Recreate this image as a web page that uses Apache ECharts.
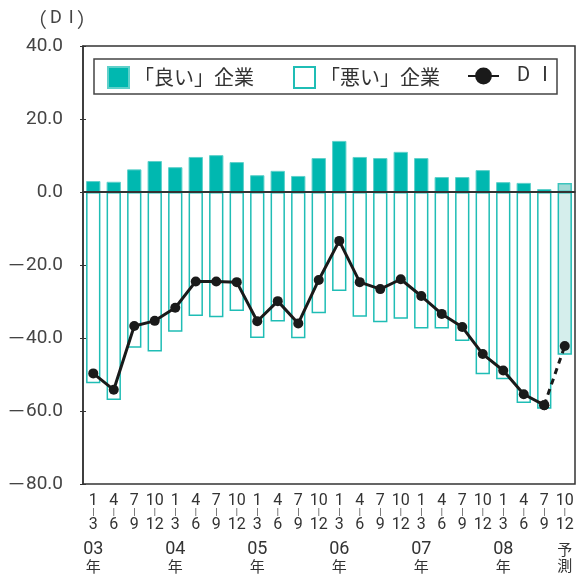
<!DOCTYPE html>
<html>
<head>
<meta charset="utf-8">
<script src="https://cdn.jsdelivr.net/npm/echarts@6/dist/echarts.min.js"></script>
<style>
  html, body { margin: 0; padding: 0; background: #fff; }
  #chart { width: 579px; height: 574px; }
</style>
</head>
<body>
<div id="chart"></div>
<script>
// Quarter periods (start month, end month), 2003 Q1 .. 2008 Q4 (forecast)
const periodStart = ['1','4','7','10','1','4','7','10','1','4','7','10','1','4','7','10','1','4','7','10','1','4','7','10'];
const periodEnd   = ['3','6','9','12','3','6','9','12','3','6','9','12','3','6','9','12','3','6','9','12','3','6','9','12'];
// Year captions written under the first quarter of each year; last column is the forecast
const yearTop    = ['03','','','','04','','','','05','','','','06','','','','07','','','','08','','','予'];
const yearBottom = ['年','','','','年','','','','年','','','','年','','','','年','','','','年','','','測'];

// 「良い」企業 (share of firms answering "good")
const goodFirms = [3.0, 2.8, 6.2, 8.5, 6.8, 9.6, 10.1, 8.2, 4.6, 5.8, 4.4, 9.3,
                   14.0, 9.6, 9.3, 11.0, 9.3, 4.1, 4.1, 6.0, 2.7, 2.5, 0.8, 2.5];
// 「悪い」企業 (share of firms answering "bad", shown as negative)
const badFirms = [-52.4, -57.0, -42.7, -43.7, -38.3, -34.0, -34.3, -32.6, -40.0, -35.5, -40.1, -33.2,
                  -27.1, -34.2, -35.7, -34.7, -37.4, -37.4, -40.8, -49.9, -51.3, -57.8, -59.4, -44.6];
// DI
const diValues = [-49.7, -54.2, -36.7, -35.3, -31.7, -24.5, -24.5, -24.7, -35.4, -29.9, -36.0, -24.1,
                  -13.4, -24.7, -26.6, -23.9, -28.5, -33.4, -37.0, -44.4, -48.9, -55.4, -58.4, -42.2];

// Y-axis tick values
const yTicks = { min: -80, max: 40, step: 20 };

const TEAL = '#00b8b0';
const forecastIdx = goodFirms.length - 1;
const categories = periodStart.map((s, i) => String(i));

const goodData = goodFirms.map((v, i) => i === forecastIdx
  ? { value: v, itemStyle: { color: '#a2d9d5', borderColor: '#3cc4bd', borderWidth: 1.5 } }
  : v);
const badData = badFirms.map((v, i) => i === forecastIdx
  ? { value: v, itemStyle: { color: '#d5eeec', borderColor: '#1fbdb5', borderWidth: 1.5 } }
  : v);
const diActual = diValues.map((v, i) => i === forecastIdx ? null : v);
const diForecast = diValues.map((v, i) => i >= forecastIdx - 1 ? v : null);

const numFont = '"Roboto", "Liberation Sans", sans-serif';
const jpFont = '"Noto Sans CJK JP", sans-serif';

const chart = echarts.init(document.getElementById('chart'), null, { renderer: 'canvas' });

chart.setOption({
  animation: false,
  backgroundColor: '#ffffff',
  graphic: [{
    type: 'text',
    left: 27, top: 9,
    style: {
      text: '{p|（}{g2|}{d|D}{g|}{d|I}{g2|}{p|）}',
      rich: {
        p: { fontFamily: jpFont, fontSize: 20, fill: '#444' },
        d: { fontFamily: numFont, fontSize: 18, fill: '#444' },
        g: { width: 7 },
        g2: { width: 3 }
      }
    }
  }, {
    type: 'rect',
    shape: { x: 94, y: 59, width: 463, height: 35 },
    style: { fill: 'transparent', stroke: '#444', lineWidth: 1.5 },
    z: 10
  }],
  legend: [{
    data: ['「良い」企業', '「悪い」企業'],
    icon: 'rect',
    left: 107, top: 66, padding: 0,
    itemWidth: 21, itemHeight: 21, itemGap: 39,
    textStyle: { fontFamily: jpFont, fontSize: 20, color: '#333' }
  }, {
    data: ['DI'],
    left: 467, top: 66, padding: 0,
    itemWidth: 31, itemHeight: 21,
    formatter: function () { return '{d|D}{g|}{d|I}'; },
    textStyle: {
      fontFamily: numFont, fontSize: 20, color: '#333', padding: [0, 0, 0, 13],
      rich: {
        d: { fontFamily: numFont, fontSize: 20, color: '#333' },
        g: { width: 12 }
      }
    }
  }],
  grid: {
    left: 83, right: 4, top: 46, bottom: 90,
    show: true, borderColor: '#333', borderWidth: 1.5, backgroundColor: 'transparent'
  },
  xAxis: {
    type: 'category',
    data: categories,
    axisLine: { lineStyle: { color: '#333', width: 1.5 } },
    axisTick: { inside: true, length: 5, lineStyle: { color: '#333', width: 1 } },
    axisLabel: {
      interval: 0, margin: 10,
      formatter: function (val, idx) {
        let s = '{n|' + periodStart[idx] + '}\n{s||}\n{n|' + periodEnd[idx] + '}\n{sp| }';
        const yt = yearTop[idx], yb = yearBottom[idx];
        const topStyle = /\d/.test(yt) ? 'y' : 'j';
        s += '\n{' + topStyle + '|' + (yt || ' ') + '}\n{j|' + (yb || ' ') + '}';
        return s;
      },
      rich: {
        n: { fontFamily: numFont, fontSize: 16, lineHeight: 13, color: '#333' },
        s: { fontFamily: numFont, fontSize: 9, lineHeight: 11, color: '#333' },
        sp: { fontSize: 6, lineHeight: 10 },
        y: { fontFamily: numFont, fontSize: 18, lineHeight: 17, color: '#333' },
        j: { fontFamily: jpFont, fontSize: 15, lineHeight: 16, color: '#333' }
      }
    }
  },
  yAxis: [{
    type: 'value',
    min: yTicks.min, max: yTicks.max, interval: yTicks.step,
    axisLine: { show: true, lineStyle: { color: '#333', width: 1.5 } },
    axisTick: { show: true, length: 3, lineStyle: { color: '#333' } },
    splitLine: { show: false },
    axisLabel: {
      margin: 20,
      formatter: function (v) {
        const s = Math.abs(v).toFixed(1);
        return v < 0 ? '{m|－}{v|' + s + '}' : '{v|' + s + '}';
      },
      rich: {
        v: { fontFamily: numFont, fontSize: 19, color: '#444' },
        m: { fontFamily: jpFont, fontSize: 19, color: '#444' }
      }
    }
  }, {
    type: 'value',
    position: 'left',
    min: yTicks.min, max: yTicks.max, interval: yTicks.step,
    axisLine: { show: false },
    axisTick: { show: true, inside: true, length: 3, lineStyle: { color: '#333' } },
    axisLabel: { show: false },
    splitLine: { show: false }
  }],
  series: [{
    name: '「良い」企業',
    type: 'bar',
    data: goodData,
    barWidth: '70%',
    barGap: '-100%',
    itemStyle: { color: TEAL, borderColor: '#5fd0ca', borderWidth: 1 },
    z: 2
  }, {
    name: '「悪い」企業',
    type: 'bar',
    data: badData,
    barWidth: '70%',
    barGap: '-100%',
    itemStyle: { color: '#ffffff', borderColor: '#1fbdb5', borderWidth: 1.5 },
    z: 2,
    markLine: {
      silent: true,
      symbol: 'none',
      label: { show: false },
      lineStyle: { color: '#333', width: 2, type: 'solid' },
      data: [{ yAxis: 0 }],
      z: 5
    }
  }, {
    name: 'DI',
    type: 'line',
    data: diActual,
    symbol: 'circle', symbolSize: 10,
    lineStyle: { color: '#1a1a1a', width: 3 },
    itemStyle: { color: '#1a1a1a' },
    z: 6
  }, {
    name: 'DI予測',
    type: 'line',
    data: diForecast,
    symbol: 'circle', symbolSize: 10,
    lineStyle: { color: '#1a1a1a', width: 3, type: [6, 5] },
    itemStyle: { color: '#1a1a1a' },
    z: 6
  }]
});
</script>
</body>
</html>
